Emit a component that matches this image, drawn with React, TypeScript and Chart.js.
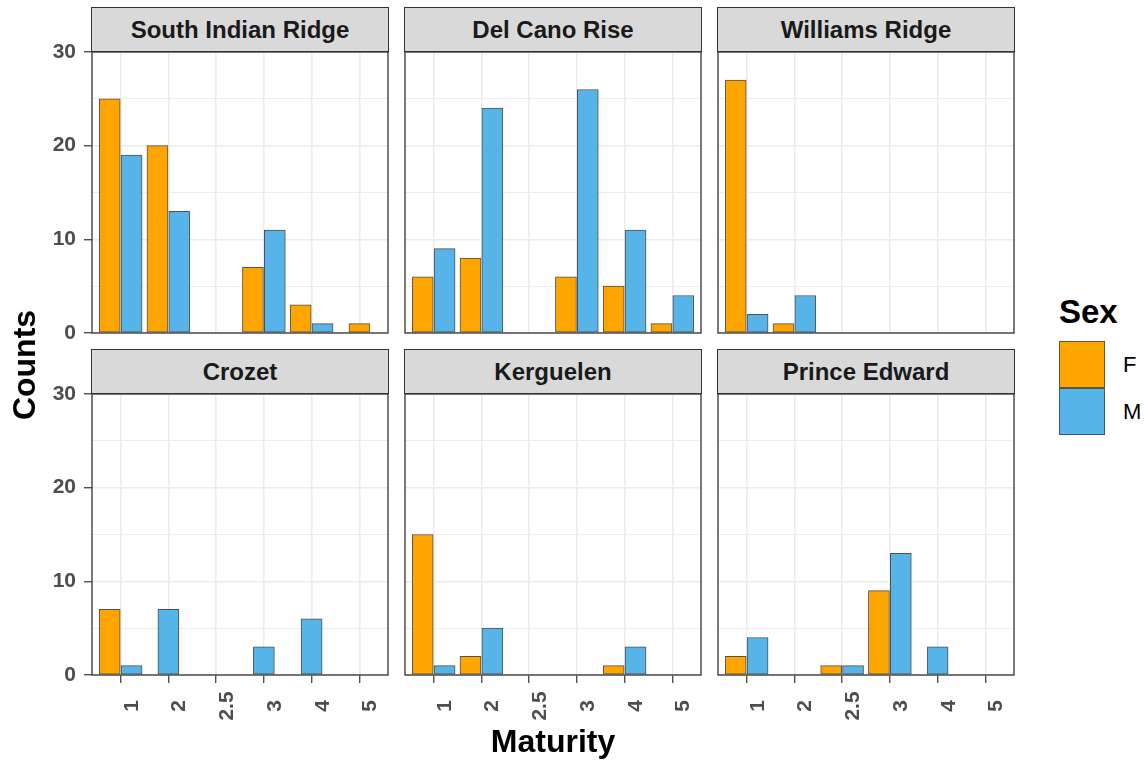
import React, { useEffect, useRef } from "react";
import { Chart, registerables } from "chart.js";

Chart.register(...registerables);

// Maturity stages on the (discrete) x axis
const maturityLevels = ["1", "2", "2.5", "3", "4", "5"];
const sexLevels = ["F", "M"];
const yTicks = [0, 5, 10, 15, 20, 25, 30];

const regionNames = [
  "South Indian Ridge",
  "Del Cano Rise",
  "Williams Ridge",
  "Crozet",
  "Kerguelen",
  "Prince Edward",
];

// Counts per maturity stage; null means no fish of that sex at that stage
const southIndianRidgeF = [25, 20, null, 7, 3, 1];
const southIndianRidgeM = [19, 13, null, 11, 1, null];
const delCanoRiseF = [6, 8, null, 6, 5, 1];
const delCanoRiseM = [9, 24, null, 26, 11, 4];
const williamsRidgeF = [27, 1, null, null, null, null];
const williamsRidgeM = [2, 4, null, null, null, null];
const crozetF = [7, null, null, null, null, null];
const crozetM = [1, 7, null, 3, 6, null];
const kerguelenF = [15, 2, null, null, 1, null];
const kerguelenM = [1, 5, null, null, 3, null];
const princeEdwardF = [2, null, 1, 9, null, null];
const princeEdwardM = [4, null, 1, 13, 3, null];

const femaleCounts = [southIndianRidgeF, delCanoRiseF, williamsRidgeF, crozetF, kerguelenF, princeEdwardF];
const maleCounts = [southIndianRidgeM, delCanoRiseM, williamsRidgeM, crozetM, kerguelenM, princeEdwardM];

// Styling
const FONT = '"Liberation Sans", Arial, Helvetica, sans-serif';
const ORANGE = "#FFA500";
const BLUE = "#56B4E9";
const OUTLINE = "rgba(51,51,51,0.85)";
const GRID = "#EBEBEB";
const AXIS = "#333333";
const TICK_TEXT = "#4D4D4D";
const STRIP_BG = "#D9D9D9";

// Layout (page pixels)
const COL_LEFT = [92, 405, 718];
const ROW_TOP = [52, 394];
const PLOT_W = 296;
const PLOT_H = 281;
const STRIP_H = 45;
const Y_AXIS_W = 52;
const X_AXIS_H = 8;
const X_LABEL_SPACE = 60;
const PAD_Y = 14;
const PAD_X = 2;
const DODGE = 0.229;
const BAR_PX = 21;

type Counts = (number | null)[];

// Dodge F left / M right when both are present, otherwise centre the single bar
function toPoints(own: Counts, other: Counts, side: number) {
  const pts: { x: number; y: number }[] = [];
  own.forEach((v, i) => {
    if (v == null) return;
    const x = other[i] != null ? i + side * DODGE : i;
    pts.push({ x, y: v });
  });
  return pts;
}

const panelFrame = {
  id: "panelFrame",
  afterDraw(chart: any) {
    const { left, top, width, height } = chart.chartArea;
    const ctx = chart.ctx;
    ctx.save();
    ctx.strokeStyle = AXIS;
    ctx.lineWidth = 1.3;
    ctx.strokeRect(left, top, width, height);
    ctx.restore();
  },
};

function makeXLabelPlugin(show: boolean) {
  return {
    id: "xRotatedLabels",
    afterDraw(chart: any) {
      if (!show) return;
      const sx = chart.scales.x;
      const ctx = chart.ctx;
      const centerY = chart.chartArea.bottom + 31;
      ctx.save();
      ctx.font = `bold 21px ${FONT}`;
      ctx.fillStyle = TICK_TEXT;
      ctx.textAlign = "center";
      ctx.textBaseline = "alphabetic";
      sx.ticks.forEach((t: any, i: number) => {
        const x = sx.getPixelForValue(t.value);
        ctx.save();
        ctx.translate(x + 17, centerY);
        ctx.rotate(-Math.PI / 2);
        ctx.fillText(maturityLevels[i], 0, 0);
        ctx.restore();
      });
      ctx.restore();
    },
  };
}

function Panel({ index }: { index: number }) {
  const ref = useRef<HTMLCanvasElement>(null);
  const row = Math.floor(index / 3);
  const col = index % 3;
  const isLeft = col === 0;
  const isBottom = row === 1;
  const yW = isLeft ? Y_AXIS_W : 0;
  const xH = isBottom ? X_AXIS_H : 0;
  const padBottom = isBottom ? X_LABEL_SPACE : PAD_Y;
  const canvasLeft = COL_LEFT[col] - yW - PAD_X;
  const canvasTop = ROW_TOP[row] - PAD_Y;
  const canvasW = PAD_X + yW + PLOT_W + PAD_X;
  const canvasH = PAD_Y + PLOT_H + xH + padBottom;

  useEffect(() => {
    if (!ref.current) return;
    const female = femaleCounts[index];
    const male = maleCounts[index];
    const chart = new Chart(ref.current, {
      type: "bar",
      data: {
        datasets: [
          {
            label: sexLevels[0],
            data: toPoints(female, male, -1),
            backgroundColor: ORANGE,
            borderColor: OUTLINE,
            borderWidth: 1,
            borderSkipped: false,
            barThickness: BAR_PX,
            grouped: false,
          },
          {
            label: sexLevels[1],
            data: toPoints(male, female, 1),
            backgroundColor: BLUE,
            borderColor: OUTLINE,
            borderWidth: 1,
            borderSkipped: false,
            barThickness: BAR_PX,
            grouped: false,
          },
        ] as any,
      },
      options: {
        responsive: false,
        maintainAspectRatio: false,
        animation: false,
        devicePixelRatio: 1,
        layout: { padding: { left: PAD_X, right: PAD_X, top: PAD_Y, bottom: padBottom } },
        plugins: {
          legend: { display: false },
          tooltip: { enabled: false },
          title: { display: false },
        },
        scales: {
          x: {
            type: "linear",
            min: -0.6,
            max: 5.6,
            offset: false,
            afterBuildTicks: (s: any) => {
              s.ticks = maturityLevels.map((_, i) => ({ value: i }));
            },
            afterFit: (s: any) => {
              s.height = xH;
              s.paddingLeft = 0;
              s.paddingRight = 0;
            },
            ticks: { display: false },
            grid: {
              offset: false,
              color: GRID,
              lineWidth: 1.5,
              drawTicks: isBottom,
              tickLength: X_AXIS_H,
              tickColor: AXIS,
              tickWidth: 1.2,
            },
            border: { display: false },
          },
          y: {
            type: "linear",
            min: 0,
            max: 30,
            afterBuildTicks: (s: any) => {
              s.ticks = yTicks.map((v) => ({ value: v }));
            },
            afterFit: (s: any) => {
              s.width = yW;
              s.paddingTop = 0;
              s.paddingBottom = 0;
            },
            ticks: {
              display: isLeft,
              padding: 8,
              color: TICK_TEXT,
              font: { family: FONT, size: 21, weight: "bold" },
              callback: (v: any) => (Number(v) % 10 === 0 ? String(v) : ""),
            },
            grid: {
              color: GRID,
              lineWidth: (c: any) => (c.tick && c.tick.value % 10 === 0 ? 1.5 : 0.9),
              drawTicks: isLeft,
              tickLength: 8,
              tickColor: (c: any) => (c.tick && c.tick.value % 10 === 0 ? AXIS : "rgba(0,0,0,0)"),
              tickWidth: 1.2,
            },
            border: { display: false },
          },
        },
      } as any,
      plugins: [panelFrame, makeXLabelPlugin(isBottom)],
    });
    return () => chart.destroy();
  }, [index]);

  return (
    <>
      <canvas
        ref={ref}
        width={canvasW}
        height={canvasH}
        style={{ position: "absolute", left: canvasLeft, top: canvasTop, width: canvasW, height: canvasH }}
      />
      <div
        style={{
          position: "absolute",
          left: COL_LEFT[col] - 1,
          top: ROW_TOP[row] - STRIP_H,
          width: PLOT_W + 2,
          height: STRIP_H,
          boxSizing: "border-box",
          border: `1.3px solid ${AXIS}`,
          background: STRIP_BG,
          display: "flex",
          alignItems: "center",
          justifyContent: "center",
          fontFamily: FONT,
          fontWeight: "bold",
          fontSize: 24,
          color: "#1A1A1A",
        }}
      >
        {regionNames[index]}
      </div>
    </>
  );
}

export default function App() {
  return (
    <div
      style={{
        position: "absolute",
        left: 0,
        top: 0,
        width: 1146,
        height: 761,
        background: "#FFFFFF",
        overflow: "hidden",
        fontFamily: FONT,
      }}
    >
      {regionNames.map((_, i) => (
        <Panel key={i} index={i} />
      ))}

      {/* y axis title */}
      <div
        style={{
          position: "absolute",
          left: 23.9 - 100,
          top: 365 - 16,
          width: 200,
          height: 32,
          lineHeight: "32px",
          fontSize: 32,
          fontWeight: "bold",
          color: "#000",
          textAlign: "center",
          transform: "rotate(-90deg)",
        }}
      >
        Counts
      </div>

      {/* x axis title */}
      <div
        style={{
          position: "absolute",
          left: 353,
          top: 725,
          width: 400,
          height: 32,
          lineHeight: "32px",
          fontSize: 32,
          fontWeight: "bold",
          color: "#000",
          textAlign: "center",
        }}
      >
        Maturity
      </div>

      {/* legend */}
      <div
        style={{
          position: "absolute",
          left: 1059,
          top: 295,
          lineHeight: "33px",
          fontSize: 33,
          fontWeight: "bold",
          color: "#000",
          whiteSpace: "nowrap",
        }}
      >
        Sex
      </div>
      {sexLevels.map((s, i) => (
        <React.Fragment key={s}>
          <div
            style={{
              position: "absolute",
              left: 1059,
              top: 341 + i * 47,
              width: 46,
              height: 47,
              boxSizing: "border-box",
              border: "1px solid rgba(51,51,51,0.7)",
              background: i === 0 ? ORANGE : BLUE,
            }}
          />
          <div
            style={{
              position: "absolute",
              left: 1123,
              top: 353.5 + i * 47,
              lineHeight: "22px",
              fontSize: 22,
              color: "#000",
              whiteSpace: "nowrap",
            }}
          >
            {s}
          </div>
        </React.Fragment>
      ))}
    </div>
  );
}
